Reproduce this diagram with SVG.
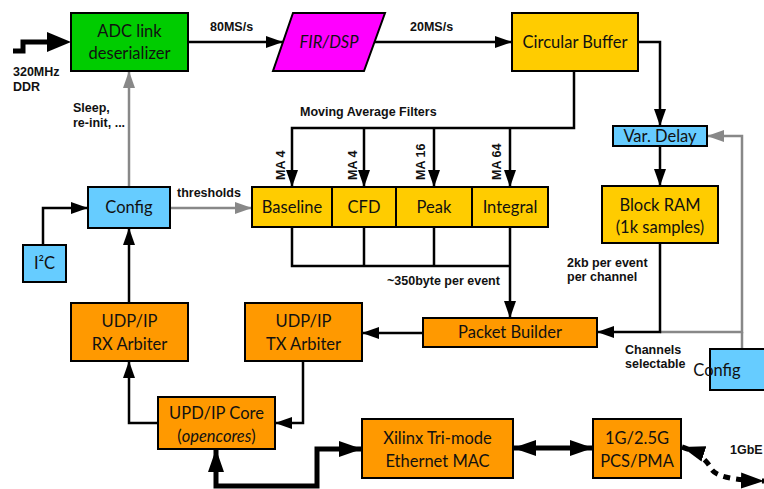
<svg xmlns="http://www.w3.org/2000/svg" width="764" height="489" viewBox="0 0 764 489">
<style>
.box{stroke:#000;stroke-width:2}
.g{fill:#00CC00}.m{fill:#FF00FF}.y{fill:#FFCC00}.o{fill:#FF9900}.b{fill:#66CCFF}
.t{font-family:Lato,"Open Sans",sans-serif;font-size:16.5px;fill:#111;text-anchor:middle}
.l{font-family:"Liberation Sans",Arial,sans-serif;font-size:12.5px;font-weight:bold;fill:#111}
.c{fill:none;stroke:#000;stroke-width:2.5}
.gr{fill:none;stroke:#888;stroke-width:2.5}
.th{fill:none;stroke:#000;stroke-width:5}
</style>
<defs>
<marker id="a" markerUnits="userSpaceOnUse" markerWidth="18" markerHeight="14" refX="17" refY="6" orient="auto-start-reverse"><path d="M0,0 L17,6 L0,12 z" fill="#000"/></marker>
<marker id="ag" markerUnits="userSpaceOnUse" markerWidth="18" markerHeight="14" refX="17" refY="6" orient="auto-start-reverse"><path d="M0,0 L17,6 L0,12 z" fill="#888"/></marker>
<marker id="at" markerUnits="userSpaceOnUse" markerWidth="24" markerHeight="18" refX="23" refY="8" orient="auto-start-reverse"><path d="M0,0 L23,8 L0,16 z" fill="#000"/></marker>
</defs>

<g id="connectors">
<path class="th" d="M13,51 H23 V42 H50" />
<path d="M47,32 L71,42 L47,52 z" fill="#000"/>
<path class="c" d="M188,42 H283" marker-end="url(#a)"/>
<path class="c" d="M375,42 H512" marker-end="url(#a)"/>
<path class="c" d="M638,42 H660 V126" marker-end="url(#a)"/>
<path class="c" d="M574,71 V128 H292 V187" marker-end="url(#a)"/>
<path class="c" d="M364,128 V187" marker-end="url(#a)"/>
<path class="c" d="M434,128 V187" marker-end="url(#a)"/>
<path class="c" d="M510,128 V187" marker-end="url(#a)"/>
<path class="c" d="M660,146 V186" marker-end="url(#a)"/>
<path class="gr" d="M660,332 H742 V136 H707" marker-end="url(#ag)"/>
<path class="gr" d="M742,332 V349"/>
<path class="c" d="M660,243 V332 H597" marker-end="url(#a)"/>
<path class="c" d="M292,227 V266 H510"/>
<path class="c" d="M364,227 V266"/>
<path class="c" d="M434,227 V266"/>
<path class="c" d="M510,227 V318" marker-end="url(#a)"/>
<path class="c" d="M423,333 H362" marker-end="url(#a)"/>
<path class="c" d="M303,361 V423 H275" marker-end="url(#a)"/>
<path class="c" d="M158,423 H129 V361" marker-end="url(#a)"/>
<path class="c" d="M129,303 V228" marker-end="url(#a)"/>
<path class="gr" d="M129,187 V71" marker-end="url(#ag)"/>
<path class="gr" d="M170,208 H252" marker-end="url(#ag)"/>
<path class="c" d="M43,245 V208 H88" marker-end="url(#a)"/>
<path class="th" d="M216,449 V486 H317 V449 H362" marker-start="url(#at)" marker-end="url(#at)"/>
<path class="th" d="M513,448 H593" marker-start="url(#at)" marker-end="url(#at)"/>
<path class="th" d="M682,447 Q704,454 712,470 Q720,480 764,481" stroke-dasharray="7,6" stroke-width="3.5" marker-start="url(#at)" marker-end="url(#at)"/>
</g>

<g id="adc"><rect class="box g" x="71" y="13" width="117" height="58"/><text class="t" x="129.5" y="37">ADC link</text><text class="t" x="129.5" y="59">deserializer</text></g>
<g id="fir"><path class="box m" d="M293,13 H385 L364,71 H273 z"/><text class="t" x="329" y="48" font-style="italic">FIR/DSP</text></g>
<g id="cbuf"><rect class="box y" x="512" y="13" width="126" height="58"/><text class="t" x="575" y="48">Circular Buffer</text></g>
<g id="vdelay"><rect class="box b" x="613" y="126" width="94" height="20"/><text class="t" x="660" y="142" font-size="15">Var. Delay</text></g>
<g id="bram"><rect class="box y" x="602" y="186" width="116" height="57"/><text class="t" x="660" y="211">Block RAM</text><text class="t" x="660" y="233">(1k samples)</text></g>
<g id="baseline"><rect class="box y" x="252" y="187" width="80" height="40"/><text class="t" x="292" y="213">Baseline</text></g>
<g id="cfd"><rect class="box y" x="332" y="187" width="64" height="40"/><text class="t" x="364" y="213">CFD</text></g>
<g id="peak"><rect class="box y" x="396" y="187" width="76" height="40"/><text class="t" x="434" y="213">Peak</text></g>
<g id="integral"><rect class="box y" x="472" y="187" width="76" height="40"/><text class="t" x="510" y="213">Integral</text></g>
<g id="config"><rect class="box b" x="88" y="187" width="82" height="41"/><text class="t" x="129" y="213">Config</text></g>
<g id="i2c"><rect class="box b" x="23" y="245" width="43" height="37"/><text class="t" x="44.5" y="269">I²C</text></g>
<g id="pbuilder"><rect class="box o" x="423" y="318" width="174" height="29"/><text class="t" x="510" y="338">Packet Builder</text></g>
<g id="txarb"><rect class="box o" x="245" y="303" width="117" height="58"/><text class="t" x="303.5" y="327">UDP/IP</text><text class="t" x="303.5" y="350">TX Arbiter</text></g>
<g id="rxarb"><rect class="box o" x="71" y="303" width="117" height="58"/><text class="t" x="129.5" y="327">UDP/IP</text><text class="t" x="129.5" y="350">RX Arbiter</text></g>
<g id="udpcore"><rect class="box o" x="158" y="397" width="117" height="52"/><text class="t" x="216.5" y="419">UPD/IP Core</text><text class="t" x="216.5" y="442">(<tspan font-style="italic">opencores</tspan>)</text></g>
<g id="mac"><rect class="box o" x="362" y="419" width="151" height="59"/><text class="t" x="437.5" y="444">Xilinx Tri-mode</text><text class="t" x="437.5" y="467">Ethernet MAC</text></g>
<g id="pcs"><rect class="box o" x="593" y="419" width="88" height="59"/><text class="t" x="637" y="444">1G/2.5G</text><text class="t" x="637" y="467">PCS/PMA</text></g>
<g id="config2"><rect class="box b" x="710" y="349" width="60" height="41"/><text class="t" x="717" y="376" text-anchor="start">Config</text></g>

<g id="labels">
<text class="l" x="13" y="76">320MHz</text><text class="l" x="13" y="91">DDR</text>
<text class="l" x="210" y="31">80MS/s</text>
<text class="l" x="410" y="31">20MS/s</text>
<text class="l" x="73" y="112">Sleep,</text><text class="l" x="73" y="127">re-init, ...</text>
<text class="l" x="300" y="116">Moving Average Filters</text>
<text class="l" x="177" y="197">thresholds</text>
<text class="l" transform="translate(285,180) rotate(-90)">MA 4</text>
<text class="l" transform="translate(357,180) rotate(-90)">MA 4</text>
<text class="l" transform="translate(425,180) rotate(-90)">MA 16</text>
<text class="l" transform="translate(501,180) rotate(-90)">MA 64</text>
<text class="l" x="387" y="285">~350byte per event</text>
<text class="l" x="567" y="267">2kb per event</text><text class="l" x="567" y="281">per channel</text>
<text class="l" x="625" y="354">Channels</text><text class="l" x="625" y="368">selectable</text>
<text class="l" x="730" y="454">1GbE</text>
</g>
</svg>
